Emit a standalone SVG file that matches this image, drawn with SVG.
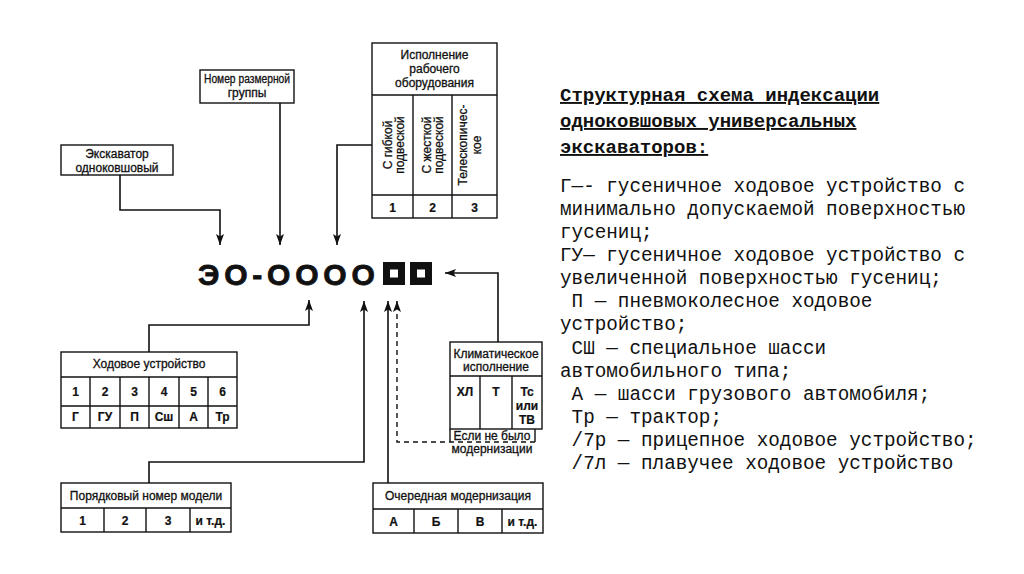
<svg xmlns="http://www.w3.org/2000/svg" width="1024" height="574" viewBox="0 0 1024 574">
<defs>
<marker id="ah" markerUnits="userSpaceOnUse" markerWidth="11" markerHeight="8" refX="11" refY="4" orient="auto">
<path d="M0,0 L11,4 L0,8 L2.5,4 z" fill="#111"/>
</marker>
<style>
.bx{fill:none;stroke:#111;stroke-width:1.4}
.ln{fill:none;stroke:#111;stroke-width:1.6}
.cn{fill:none;stroke:#111;stroke-width:1.6;marker-end:url(#ah)}
.ds{fill:none;stroke:#111;stroke-width:1.4;stroke-dasharray:5,4}
.t{font-family:"Liberation Sans",Arial,sans-serif;font-size:12px;fill:#111;stroke:#111;stroke-width:0.3;text-anchor:middle}
.b{font-weight:bold;stroke-width:0.2}
.m{font-family:"Liberation Mono","Courier New",monospace;font-size:19.3px;fill:#111;white-space:pre}
.h{font-family:"Liberation Mono","Courier New",monospace;font-size:19px;font-weight:bold;fill:#111;text-decoration:underline}
</style>
</defs>
<rect width="1024" height="574" fill="#fff"/>

<g id="index">
<text x="198" y="285" font-family="'Liberation Sans',Arial,sans-serif" font-size="30" font-weight="bold" fill="#111" stroke="#111" stroke-width="0.8" letter-spacing="4.8">ЭО-ОООО</text>
<rect x="383" y="262" width="22" height="23" fill="#111"/>
<rect x="390" y="269.5" width="8" height="8" fill="#fff"/>
<rect x="410" y="262" width="22" height="23" fill="#111"/>
<rect x="417" y="269.5" width="8" height="8" fill="#fff"/>
</g>

<g id="excavator">
<rect class="bx" x="61" y="145" width="112" height="30"/>
<text class="t" x="117" y="158">Экскаватор</text>
<text class="t" x="117" y="172">одноковшовый</text>
</g>

<g id="size-group">
<rect class="bx" x="200" y="70" width="94" height="33"/>
<text class="t" x="247" y="83" textLength="86" lengthAdjust="spacingAndGlyphs">Номер размерной</text>
<text class="t" x="247" y="97">группы</text>
</g>

<g id="equipment">
<rect class="bx" x="372" y="43" width="125" height="175"/>
<line class="bx" x1="372" y1="95" x2="497" y2="95"/>
<line class="bx" x1="372" y1="195" x2="497" y2="195"/>
<line class="bx" x1="413" y1="95" x2="413" y2="218"/>
<line class="bx" x1="452" y1="95" x2="452" y2="218"/>
<text class="t" x="434.5" y="59">Исполнение</text>
<text class="t" x="434.5" y="73">рабочего</text>
<text class="t" x="434.5" y="87">оборудования</text>
<text class="t" transform="translate(392,145) rotate(-90)">С гибкой</text>
<text class="t" transform="translate(404,145) rotate(-90)">подвеской</text>
<text class="t" transform="translate(431,145) rotate(-90)">С жесткой</text>
<text class="t" transform="translate(443,145) rotate(-90)">подвеской</text>
<text class="t" transform="translate(467,145) rotate(-90)">Телескопичес-</text>
<text class="t" transform="translate(481,145) rotate(-90)">кое</text>
<text class="t b" x="392.5" y="212">1</text>
<text class="t b" x="432.5" y="212">2</text>
<text class="t b" x="474.5" y="212">3</text>
</g>

<g id="running-gear">
<rect class="bx" x="61" y="352" width="176" height="76"/>
<line class="bx" x1="61" y1="377" x2="237" y2="377"/>
<line class="bx" x1="61" y1="406" x2="237" y2="406"/>
<line class="bx" x1="90" y1="377" x2="90" y2="428"/>
<line class="bx" x1="120" y1="377" x2="120" y2="428"/>
<line class="bx" x1="149" y1="377" x2="149" y2="428"/>
<line class="bx" x1="179" y1="377" x2="179" y2="428"/>
<line class="bx" x1="208" y1="377" x2="208" y2="428"/>
<text class="t" x="149" y="368">Ходовое устройство</text>
<text class="t b" x="75.5" y="396">1</text>
<text class="t b" x="105" y="396">2</text>
<text class="t b" x="134.5" y="396">3</text>
<text class="t b" x="164" y="396">4</text>
<text class="t b" x="193.5" y="396">5</text>
<text class="t b" x="222.5" y="396">6</text>
<text class="t b" x="75.5" y="421">Г</text>
<text class="t b" x="105" y="421">ГУ</text>
<text class="t b" x="134.5" y="421">П</text>
<text class="t b" x="164" y="421">Сш</text>
<text class="t b" x="193.5" y="421">А</text>
<text class="t b" x="222.5" y="421">Тр</text>
</g>

<g id="climate">
<rect class="bx" x="450" y="342" width="92" height="87"/>
<line class="bx" x1="450" y1="376" x2="542" y2="376"/>
<line class="bx" x1="480" y1="376" x2="480" y2="429"/>
<line class="bx" x1="512" y1="376" x2="512" y2="429"/>
<text class="t" x="496" y="358">Климатическое</text>
<text class="t" x="496" y="371">исполнение</text>
<text class="t b" x="465" y="396">ХЛ</text>
<text class="t b" x="496" y="396">Т</text>
<text class="t b" x="527" y="396">Тс</text>
<text class="t b" x="527" y="410">или</text>
<text class="t b" x="527" y="424">ТВ</text>
</g>

<g id="no-modernization">
<line class="bx" x1="450" y1="429" x2="450" y2="442"/>
<line class="bx" x1="535" y1="429" x2="535" y2="442"/>
<text class="t" x="492" y="440">Если не было</text>
<text class="t" x="492" y="453">модернизации</text>
</g>

<g id="model-number">
<rect class="bx" x="61" y="483" width="170" height="49"/>
<line class="bx" x1="61" y1="508" x2="231" y2="508"/>
<line class="bx" x1="104" y1="508" x2="104" y2="532"/>
<line class="bx" x1="146" y1="508" x2="146" y2="532"/>
<line class="bx" x1="190" y1="508" x2="190" y2="532"/>
<text class="t" x="146" y="500">Порядковый номер модели</text>
<text class="t b" x="82.5" y="525">1</text>
<text class="t b" x="125" y="525">2</text>
<text class="t b" x="168" y="525">3</text>
<text class="t b" x="210.5" y="525">и т.д.</text>
</g>

<g id="modernization">
<rect class="bx" x="373" y="483" width="170" height="50"/>
<line class="bx" x1="373" y1="509" x2="543" y2="509"/>
<line class="bx" x1="414" y1="509" x2="414" y2="533"/>
<line class="bx" x1="458" y1="509" x2="458" y2="533"/>
<line class="bx" x1="502" y1="509" x2="502" y2="533"/>
<text class="t" x="458" y="500">Очередная модернизация</text>
<text class="t b" x="393.5" y="526">А</text>
<text class="t b" x="436" y="526">Б</text>
<text class="t b" x="480" y="526">В</text>
<text class="t b" x="522.5" y="526">и т.д.</text>
</g>

<g id="connectors">
<polyline class="cn" points="120,175 120,210 220,210 220,245"/>
<polyline class="cn" points="280,103 280,245"/>
<polyline class="cn" points="372,145 337,145 337,245"/>
<polyline class="cn" points="149,352 149,325 309,325 309,300"/>
<polyline class="cn" points="149,483 149,462 364,462 364,301"/>
<polyline class="cn" points="388,483 388,301"/>
<polyline class="ds" points="535,442 397,442 397,312"/>
<polyline class="cn" points="397,304 397,301"/>
<polyline class="cn" points="498,342 498,273 445,273"/>
</g>

<g id="legend">
<text class="h" x="560" y="101">Структурная схема индексации</text>
<text class="h" x="560" y="127">одноковшовых универсальных</text>
<text class="h" x="560" y="153">экскаваторов:</text>
<text class="m" x="560" y="192">Г—- гусеничное ходовое устройство с</text>
<text class="m" x="560" y="215">минимально допускаемой поверхностью</text>
<text class="m" x="560" y="238">гусениц;</text>
<text class="m" x="560" y="261">ГУ— гусеничное ходовое устройство с</text>
<text class="m" x="560" y="284">увеличенной поверхностью гусениц;</text>
<text class="m" x="560" y="307"> П — пневмоколесное ходовое</text>
<text class="m" x="560" y="330">устройство;</text>
<text class="m" x="560" y="354"> СШ — специальное шасси</text>
<text class="m" x="560" y="377">автомобильного типа;</text>
<text class="m" x="560" y="400"> А — шасси грузового автомобиля;</text>
<text class="m" x="560" y="423"> Тр — трактор;</text>
<text class="m" x="560" y="446"> /7р — прицепное ходовое устройство;</text>
<text class="m" x="560" y="469"> /7л — плавучее ходовое устройство</text>
</g>
</svg>
